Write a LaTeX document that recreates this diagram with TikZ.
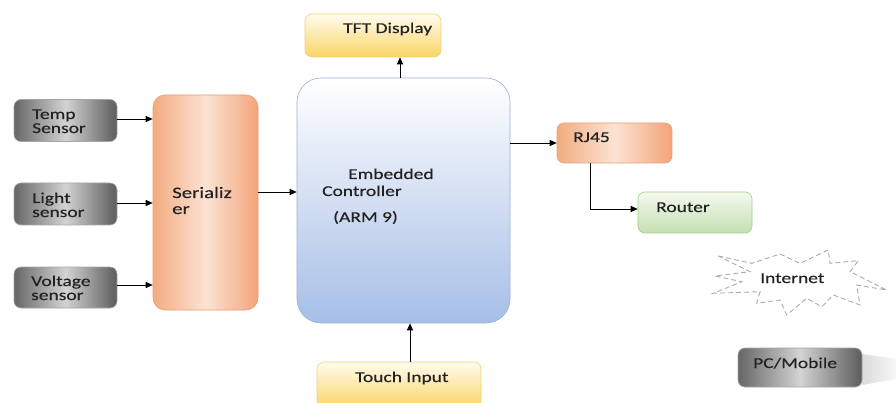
\documentclass[tikz,border=0pt]{standalone}
\usepackage{fontspec}
\setmainfont{Carlito}[FakeStretch=1.3,FakeBold=0.3]
\usetikzlibrary{arrows.meta,calc}

\definecolor{sensdark}{HTML}{666666}
\definecolor{senslight}{HTML}{D3D3D3}
\definecolor{peachedge}{HTML}{F2AC80}
\definecolor{peachmid}{HTML}{FCE3D4}
\definecolor{peachline}{HTML}{E8A078}
\definecolor{yellowtop}{HTML}{FFFCEE}
\definecolor{yellowbot}{HTML}{FAD466}
\definecolor{yellowline}{HTML}{F0D27A}
\definecolor{bluebot}{HTML}{A6BEE6}
\definecolor{blueline}{HTML}{9AB2D8}
\definecolor{greentop}{HTML}{F5FAF0}
\definecolor{greenbot}{HTML}{C4DFB1}
\definecolor{greenline}{HTML}{A3CC88}
\definecolor{inktext}{HTML}{222222}

\begin{document}
\begin{tikzpicture}[x=1pt,y=-1pt,
  blk/.style={inner sep=0pt, rounded corners=7pt, line width=0.6pt},
  sensor/.style={blk, draw=gray!70, left color=sensdark, right color=sensdark!90!black, middle color=senslight},
  peach/.style={blk, draw=peachline, left color=peachedge, right color=peachedge!95!red, middle color=peachmid},
  yellowbox/.style={blk, draw=yellowline, top color=yellowtop, bottom color=yellowbot},
  bluebox/.style={blk, rounded corners=24pt, draw=blueline, top color=white, bottom color=bluebot},
  greenbox/.style={blk, draw=greenline, top color=greentop, bottom color=greenbot},
  lbl/.style={anchor=base west, inner sep=0pt, text=inktext, font=\fontsize{15}{18}\selectfont},
  arr/.style={-{Triangle[length=7pt,width=6pt]}, line width=0.9pt, black}]

\path[use as bounding box, clip] (0,0) rectangle (896,403);
\fill[white] (0,0) rectangle (896,403);

% sensor inputs
\node[sensor, minimum width=103pt, minimum height=42pt] (temp)  at (65.5,120.5) {};
\node[sensor, minimum width=103pt, minimum height=42pt] (light) at (65.5,204) {};
\node[sensor, minimum width=103pt, minimum height=41pt] (volt)  at (65.5,287.5) {};

% serializer and controller
\node[peach, rounded corners=12pt, minimum width=105pt, minimum height=215pt] (ser) at (205.5,202.5) {};
\node[bluebox, minimum width=213pt, minimum height=245pt] (ctrl) at (403.5,200.5) {};

% display and touch input
\node[yellowbox, minimum width=136pt, minimum height=43pt] (tft) at (373,35.5) {};
\node[yellowbox, minimum width=164pt, minimum height=46pt] (touch) at (399,385) {};

% network side
\node[peach, minimum width=115pt, minimum height=40pt] (rj) at (614.5,143) {};
\node[greenbox, minimum width=114pt, minimum height=41pt] (router) at (695,212.5) {};

% internet cloud (explosion outline)
\draw[gray!65, line width=0.9pt, dash pattern=on 5pt off 3pt]
  (718.3,256) -- (751.7,263.3) -- (780,254) -- (800,263.3) -- (828.3,250)
  -- (830,263.3) -- (858.3,260.7) -- (850,271.7) -- (886.7,290) -- (856.7,285)
  -- (860,305) -- (833.3,295) -- (821.7,306.7) -- (806.7,298.3) -- (786.7,315)
  -- (780,300) -- (756.7,303.3) -- (760,291.7) -- (713.3,293.3) -- (741.7,281.7)
  -- (715,276) -- (750,271.7) -- cycle;

% PC / mobile with its cast shadow
\shade[left color=gray!28, right color=gray!6] (862,354) -- (896,359) -- (896,379) -- (862,385) -- cycle;
\node[sensor, minimum width=124pt, minimum height=39pt] (pc) at (800,367.5) {};

% labels
\node[lbl] (tempA)  at (32,119) {Temp};
\node[lbl] (tempB)  at (32,133) {Sensor};
\node[lbl] (lightA) at (32,203) {Light};
\node[lbl] (lightB) at (32,217) {sensor};
\node[lbl] (voltA)  at (31,286) {Voltage};
\node[lbl] (voltB)  at (31,300) {sensor};
\node[lbl, font=\fontsize{16}{18}\selectfont] (serA) at (172,198) {Serializ};
\node[lbl, font=\fontsize{16}{18}\selectfont] (serB) at (172,214) {er};
\node[lbl] (tftT)   at (343,33) {TFT Display};
\node[lbl] (ctrlA)  at (348,179) {Embedded};
\node[lbl] (ctrlB)  at (322,196) {Controller};
\node[lbl] (ctrlC)  at (333,222) {(ARM 9)};
\node[lbl] (touchT) at (355,382) {Touch Input};
\node[lbl] (rjT)    at (573,142) {RJ45};
\node[lbl] (routT)  at (656,212) {Router};
\node[lbl] (netT)   at (760,283) {Internet};
\node[lbl] (pcT)    at (753,368) {PC/Mobile};

% connectors
\draw[arr] ([yshift=1.5pt]temp.east)  -- ([yshift=1.5pt]temp.east -| ser.west);
\draw[arr] ([yshift=1pt]light.east)   -- ([yshift=1pt]light.east -| ser.west);
\draw[arr] ([yshift=2.5pt]volt.east)  -- ([yshift=2.5pt]volt.east -| ser.west);
\draw[arr] ([yshift=10.5pt]ser.east)  -- ([yshift=10.5pt]ser.east -| ctrl.west);
\draw[arr] ([xshift=-3.5pt]ctrl.north) -- ([xshift=-3.5pt]ctrl.north |- tft.south);
\draw[arr] ([xshift=11pt]touch.north) -- ([xshift=11pt]touch.north |- ctrl.south);
\draw[arr] (ctrl.east |- rj.west) -- (rj.west);
\draw[arr] ([xshift=-24.5pt]rj.south) |- ([yshift=3.5pt]router.west);
\end{tikzpicture}
\end{document}
